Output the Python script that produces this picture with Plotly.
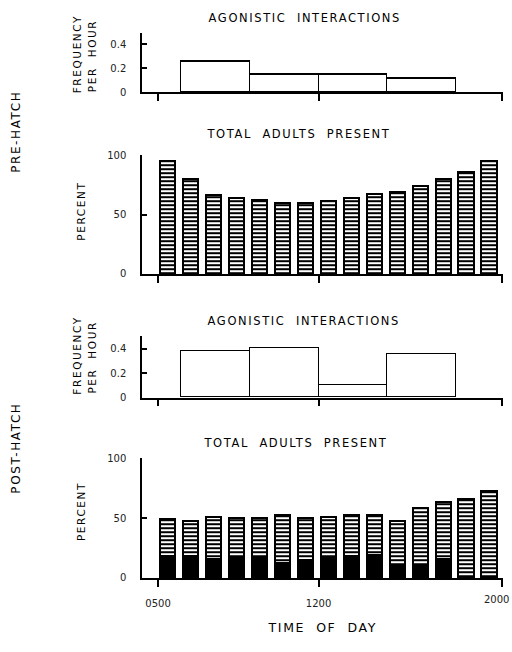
import plotly.graph_objects as go

# ---------------- data ----------------
hours = [5, 6, 7, 8, 9, 10, 11, 12, 13, 14, 15, 16, 17, 18, 19]          # start hour of each bar
block_start = [6, 9, 12, 15]                                            # 3-hour blocks
agon_pre = [0.26, 0.15, 0.15, 0.12]
agon_post = [0.38, 0.40, 0.10, 0.35]
present_pre = [95, 80, 66, 64, 62, 60, 60, 61, 64, 67, 69, 74, 80, 86, 95]
present_post_total = [49, 47, 51, 49.5, 49.7, 52, 49.7, 51, 52, 52, 47, 58, 63.5, 65.5, 72.5]
present_post_black = [18, 18.5, 16, 17, 17, 12, 14.5, 17, 18.5, 19, 11, 11, 16, 0, 0]
tick_vals = [5, 12, 20]
tick_text = ["0500", "1200", "2000"]
freq_vals = [0, 0.2, 0.4]
freq_text = ["0", "0.2", "0.4"]
pct_vals = [0, 50, 100]
pct_text = ["0", "50", "100"]

W, H = 512, 652
FONT = "DejaVu Sans"

def fx(p):
    return p / W

def fy(p):
    return 1 - p / H

fig = go.Figure()

hatch = dict(shape="-", fgcolor="black", bgcolor="white", size=4, solidity=0.5, fillmode="replace")

# panel 1 – agonistic interactions, pre-hatch
fig.add_trace(go.Bar(x=block_start, y=agon_pre, width=3, offset=0,
                     marker=dict(color="white", line=dict(color="black", width=1.2)),
                     xaxis="x", yaxis="y", showlegend=False, hoverinfo="skip"))
# panel 2 – total adults present, pre-hatch
fig.add_trace(go.Bar(x=hours, y=present_pre, width=0.66, offset=0.1,
                     marker=dict(color="white", pattern=hatch, line=dict(color="black", width=2.5)),
                     xaxis="x2", yaxis="y2", showlegend=False, hoverinfo="skip"))
# panel 3 – agonistic interactions, post-hatch
fig.add_trace(go.Bar(x=block_start, y=agon_post, width=3, offset=0,
                     marker=dict(color="white", line=dict(color="black", width=1.2)),
                     xaxis="x3", yaxis="y3", showlegend=False, hoverinfo="skip"))
# panel 4 – total adults present, post-hatch (solid part + hatched part, stacked)
upper = [t - b for t, b in zip(present_post_total, present_post_black)]
fig.add_trace(go.Bar(x=hours, y=present_post_black, width=0.66, offset=0.1,
                     marker=dict(color="black", line=dict(color="black", width=2.5)),
                     xaxis="x4", yaxis="y4", showlegend=False, hoverinfo="skip"))
fig.add_trace(go.Bar(x=hours, y=upper, width=0.66, offset=0.1,
                     marker=dict(color="white", pattern=hatch, line=dict(color="black", width=2.5)),
                     xaxis="x4", yaxis="y4", showlegend=False, hoverinfo="skip"))

xdom = [fx(142), fx(502.7)]
ydoms = [
    [fy(88), fy(27)],
    [fy(273), fy(152)],
    [fy(399), fy(336.5)],
    [fy(582.7), fy(460.7)],
]
XR = [4.3, 20.03]

tickfont = dict(family=FONT, size=10, color="#222")

def xaxis_cfg(i, labels):
    d = dict(domain=xdom, range=XR, showline=True, linecolor="black", linewidth=1.5,
             ticks="outside", ticklen=7, tickwidth=1.5, tickcolor="black",
             tickvals=tick_vals[:2] + [tick_vals[2]],
             ticktext=tick_text[:2] + [""], showticklabels=labels,
             showgrid=False, zeroline=False, tickfont=tickfont, fixedrange=True,
             ticklabelstandoff=8)
    d["anchor"] = "y" if i == 1 else "y%d" % i
    return d

def yaxis_cfg(i, rng, tv, tt):
    return dict(domain=ydoms[i - 1], range=rng, showline=True, linecolor="black", linewidth=1.5,
                ticks="inside", ticklen=5, tickwidth=1.5, tickcolor="black",
                tickvals=tv, ticktext=tt, showgrid=False, zeroline=False,
                tickfont=tickfont, ticklabelstandoff=12,
                anchor="x" if i == 1 else "x%d" % i, fixedrange=True)

fig.update_layout(
    width=W, height=H, margin=dict(l=0, r=0, t=0, b=0),
    paper_bgcolor="white", plot_bgcolor="white",
    barmode="stack", bargap=0,
    xaxis=xaxis_cfg(1, False), xaxis2=xaxis_cfg(2, False),
    xaxis3=xaxis_cfg(3, False), xaxis4=xaxis_cfg(4, True),
    yaxis=yaxis_cfg(1, [0, 0.5], freq_vals, freq_text),
    yaxis2=yaxis_cfg(2, [0, 100], pct_vals, pct_text),
    yaxis3=yaxis_cfg(3, [0, 0.5], freq_vals, freq_text),
    yaxis4=yaxis_cfg(4, [0, 100], pct_vals, pct_text),
)

# last tick label sits against the right edge of the page: right-aligned at its tick position
fig.add_annotation(text=tick_text[2], x=tick_vals[2], xref="x4", y=fy(605), yref="paper",
                   xanchor="right", xshift=9, yanchor="middle", showarrow=False,
                   font=tickfont)

def ann(text, x, y, size=11.5, angle=0):
    fig.add_annotation(text=text, x=fx(x), y=fy(y), xref="paper", yref="paper",
                       showarrow=False, textangle=angle, xanchor="center", yanchor="middle",
                       font=dict(family=FONT, size=size, color="black"), name="label")

ann("AGONISTIC\u00a0\u00a0INTERACTIONS", 305, 12)
ann("TOTAL\u00a0\u00a0ADULTS\u00a0\u00a0PRESENT", 299, 130)
ann("AGONISTIC\u00a0\u00a0INTERACTIONS", 304, 321)
ann("TOTAL\u00a0\u00a0ADULTS\u00a0\u00a0PRESENT", 296, 445)
ann("TIME\u00a0\u00a0OF\u00a0\u00a0DAY", 322, 633, size=12.5)
ann("PRE-HATCH", 16, 128, size=12, angle=-90)
ann("POST-HATCH", 16, 451, size=12, angle=-90)
ann("FREQUENCY", 77, 49, size=10.5, angle=-90)
ann("PER\u00a0\u00a0HOUR", 92, 51, size=10.5, angle=-90)
ann("FREQUENCY", 77, 356, size=10.5, angle=-90)
ann("PER\u00a0\u00a0HOUR", 92, 358, size=10.5, angle=-90)
ann("PERCENT", 81, 209, size=10.5, angle=-90)
ann("PERCENT", 81, 515, size=10.5, angle=-90)

post = (
    "document.body.style.margin='0';"
    "document.body.style.overflow='hidden';"
    "document.documentElement.style.overflow='hidden';"
    "document.querySelectorAll('.annotation').forEach(function(g,i){if(i>0){var t=g.querySelector('.annotation-text');if(t){t.setAttribute('letter-spacing','1.6px');}}});"
)
fig.write_html("out.html", post_script=post, config={"displayModeBar": False})
